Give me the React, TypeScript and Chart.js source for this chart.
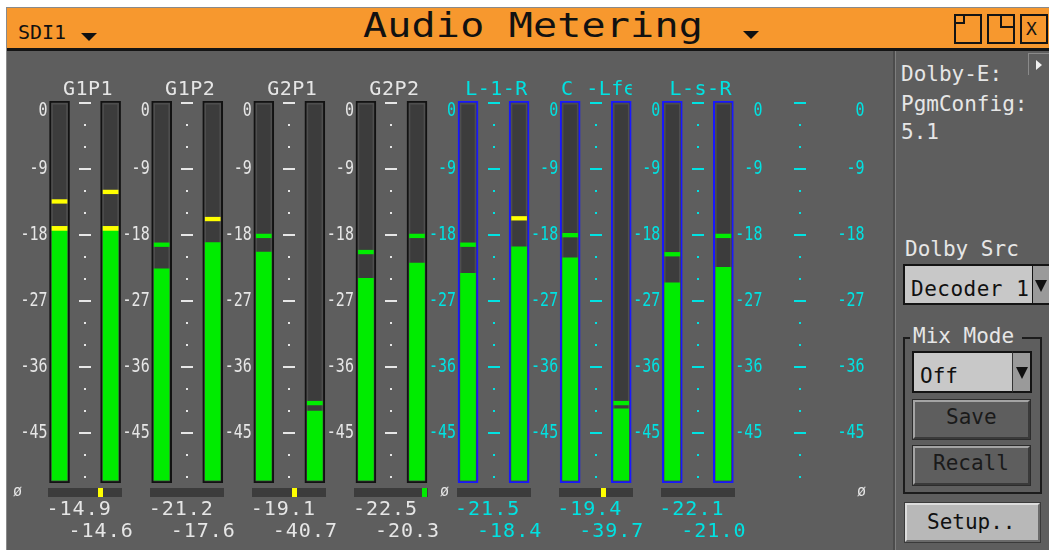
import React, { useEffect, useRef } from "react";
import { Chart, registerables } from "chart.js";

Chart.register(...registerables);

// ---------- data ----------
const groupNames = ["G1P1", "G1P2", "G2P1", "G2P2", "L-1-R", "C -Lfe", "L-s-R", ""];
const levelL = [-16.8, -22.6, -20.3, -23.9, -23.2, -21.1, -24.5, null];
const levelR = [-16.8, -19.0, -42.0, -21.8, -19.6, -41.7, -22.4, null];
const peakL = [-13.4, -19.3, -18.1, -20.3, -19.3, -18.0, -20.6, null];
const peakR = [-12.1, -15.8, -40.9, -18.1, -15.7, -40.9, -18.1, null];
const readoutL = [-14.9, -21.2, -19.1, -22.5, -21.5, -19.4, -22.1];
const readoutR = [-14.6, -17.6, -40.7, -20.3, -18.4, -39.7, -21.0];
const phase = [0.45, null, 0.15, 0.97, null, 0.22, null];
const scaleTicks = [0, -9, -18, -27, -36, -45];
const SCALE_MIN = -51.8;
const SCALE_MAX = 0.3;
const PEAK_WARN = -17;
const LEVEL_WARN = -18;

// ---------- style ----------
const MONO = "'DejaVu Sans Mono', 'Liberation Mono', monospace";
const WHITE = "#e6e6e6";
const CYAN = "#00e2e2";
const BLUE = "#1818ff";
const GREEN = "#00ec00";
const YELLOW = "#ffff00";
const BG = "#5e5e5e";
const TRACK = "#3c3c3c";

const channels = groupNames.flatMap((g) => [`${g || "Aux"} L`, `${g || "Aux"} R`]);
const levels = groupNames.flatMap((_, i) => [levelL[i], levelR[i]]);
const peaks = groupNames.flatMap((_, i) => [peakL[i], peakR[i]]);
const groupOf = (i: number) => Math.floor(i / 2);
const isSurround = (g: number) => g >= 4;

function stretchText(ctx: CanvasRenderingContext2D, text: string, x: number, y: number, sy: number) {
  ctx.save();
  ctx.translate(x, y);
  ctx.scale(1, sy);
  ctx.fillText(text, 0, 0);
  ctx.restore();
}

const meterDecor = {
  id: "meterDecor",
  afterDraw(chart: any) {
    const { ctx } = chart;
    const x = chart.scales.x;
    const y = chart.scales.y;
    const lx = (g: number) => x.getPixelForValue(2 * g);
    const pitch = lx(1) - lx(0);
    const mid = (g: number) => (x.getPixelForValue(2 * g) + x.getPixelForValue(2 * g + 1)) / 2;
    const col = (g: number) => (isSurround(g) ? CYAN : WHITE);
    ctx.save();

    // centre scales (dashes every 9 dB, dots every 3 dB)
    for (let g = 0; g < groupNames.length; g++) {
      ctx.fillStyle = col(g);
      const m = Math.round(mid(g));
      for (let db = 0; db >= -51; db -= 3) {
        const yy = Math.round(y.getPixelForValue(db));
        if (db % 9 === 0) ctx.fillRect(m - 6, yy - 1, 12, 2);
        else ctx.fillRect(m - 1, yy - 1, 2, 2);
      }
    }

    // numeric scale labels (one column before each group and one after the last)
    ctx.font = `15px ${MONO}`;
    ctx.textAlign = "right";
    ctx.textBaseline = "middle";
    for (let c = 0; c <= groupNames.length; c++) {
      const xr = (c < groupNames.length ? lx(c) : lx(groupNames.length - 1) + pitch) - 12;
      ctx.fillStyle = col(c);
      for (const t of scaleTicks) {
        const yy = Math.max(y.getPixelForValue(t), y.top + 10);
        stretchText(ctx, String(t), xr, yy, 1.3);
      }
    }

    // group names
    ctx.font = `20px ${MONO}`;
    ctx.textAlign = "center";
    ctx.textBaseline = "alphabetic";
    if ("letterSpacing" in ctx) (ctx as any).letterSpacing = "0.5px";
    groupNames.forEach((name, g) => {
      if (!name) return;
      const m = mid(g);
      ctx.save();
      ctx.beginPath();
      ctx.rect(m - 38, y.top - 30, 74, 30);
      ctx.clip();
      ctx.fillStyle = col(g);
      ctx.fillText(name, m + 3, y.top - 6);
      ctx.restore();
    });

    // correlation indicators
    phase.forEach((v, g) => {
      const m = mid(g);
      ctx.fillStyle = TRACK;
      ctx.fillRect(Math.round(m - 37), y.bottom + 5, 74, 9);
      if (v != null) {
        ctx.fillStyle = v >= 0.9 ? GREEN : YELLOW;
        ctx.fillRect(Math.round(m + v * 34 - 2.5), y.bottom + 5, 5, 9);
      }
    });

    // readouts
    ctx.font = `20px ${MONO}`;
    ctx.textAlign = "left";
    if ("letterSpacing" in ctx) (ctx as any).letterSpacing = "1px";
    readoutL.forEach((v, g) => {
      ctx.fillStyle = col(g);
      ctx.fillText(v.toFixed(1), lx(g) - 13, y.bottom + 32);
      ctx.fillText(readoutR[g].toFixed(1), lx(g) + 9, y.bottom + 54);
    });
    ctx.restore();
  },
};

const T = ({ x, base, size = 21, color = WHITE, spacing = 0, children }: any) => (
  <div
    style={{
      position: "absolute",
      left: x,
      top: base - 0.846 * size,
      fontSize: size,
      lineHeight: `${size}px`,
      color,
      whiteSpace: "pre",
      letterSpacing: spacing,
      fontFamily: MONO,
    }}
  >
    {children}
  </div>
);

const Tri = ({ x, y, w = 16, h = 9, color = "#111" }: any) => (
  <div
    style={{
      position: "absolute",
      left: x,
      top: y,
      width: 0,
      height: 0,
      borderLeft: `${w / 2}px solid transparent`,
      borderRight: `${w / 2}px solid transparent`,
      borderTop: `${h}px solid ${color}`,
    }}
  />
);

const abs = (l: number, t: number, w: number, h: number, extra: any = {}) => ({
  position: "absolute" as const,
  left: l,
  top: t,
  width: w,
  height: h,
  boxSizing: "border-box" as const,
  ...extra,
});

export default function App() {
  const ref = useRef<HTMLCanvasElement>(null);

  useEffect(() => {
    const chart = new Chart(ref.current as HTMLCanvasElement, {
      type: "bar",
      data: {
        labels: channels,
        datasets: [
          {
            label: "track",
            data: levels.map((l) => (l == null ? null : [SCALE_MIN, SCALE_MAX])) as any,
            backgroundColor: TRACK,
            borderColor: channels.map((_, i) => (isSurround(groupOf(i)) ? BLUE : "#121212")),
            borderWidth: 2,
            borderSkipped: false,
            barThickness: 20,
            grouped: false,
            order: 4,
          },
          {
            label: "trackEdge",
            data: levels.map((l) => (l == null ? null : [SCALE_MIN + 0.3, SCALE_MAX - 0.3])) as any,
            backgroundColor: "rgba(0,0,0,0)",
            borderColor: "#4e4e4e",
            borderWidth: 1,
            borderSkipped: false,
            barThickness: 16,
            grouped: false,
            order: 3,
          },
          {
            label: "level",
            data: levels.map((l) => (l == null ? null : [SCALE_MIN + 0.4, l])) as any,
            backgroundColor: GREEN,
            barThickness: 15,
            grouped: false,
            order: 2,
          },
          {
            label: "levelHot",
            data: levels.map((l) => (l == null || l <= LEVEL_WARN ? null : [l - 0.55, l])) as any,
            backgroundColor: YELLOW,
            barThickness: 15,
            grouped: false,
            order: 1,
          },
          {
            label: "peak",
            data: peaks.map((p) => (p == null ? null : [p - 0.25, p + 0.25])) as any,
            backgroundColor: peaks.map((p) => (p != null && p > PEAK_WARN ? YELLOW : GREEN)),
            barThickness: 15,
            grouped: false,
            order: 0,
          },
        ],
      },
      options: {
        responsive: false,
        animation: false,
        events: [],
        layout: { padding: { left: 27, right: 42, top: 50, bottom: 67 } },
        plugins: { legend: { display: false }, tooltip: { enabled: false } },
        scales: {
          x: { type: "category", display: false, offset: true, grid: { display: false } },
          y: { type: "linear", display: false, min: SCALE_MIN, max: SCALE_MAX },
        },
      },
      plugins: [meterDecor],
    } as any);
    return () => chart.destroy();
  }, []);

  const btn3d = {
    background: BG,
    borderTop: "2px solid #a4a4a4",
    borderLeft: "2px solid #a4a4a4",
    borderBottom: "2px solid #3a3a3a",
    borderRight: "2px solid #3a3a3a",
    outline: "1px solid #2c2c2c",
  };

  return (
    <div style={{ position: "fixed", left: 0, top: 0, width: 1049, height: 550, background: "#fff", overflow: "hidden" }}>
      {/* frame */}
      <div style={abs(6, 7, 1043, 543, { background: BG, borderLeft: "1px solid #8a8a8a", borderTop: "1px solid #8a8a8a" })} />
      {/* title bar */}
      <div style={abs(7, 8, 1042, 40, { background: "#f7982e" })} />
      <div style={abs(7, 48, 1042, 3, { background: "#141414" })} />
      <T x={18} base={39} size={20} color="#111">SDI1</T>
      <Tri x={81} y={33} w={16} h={8} />
      <div
        style={{
          position: "absolute",
          left: 363,
          top: 9,
          fontFamily: MONO,
          fontSize: 40,
          lineHeight: "40px",
          letterSpacing: 0.2,
          color: "#111",
          whiteSpace: "pre",
          transform: "scaleY(0.83)",
          transformOrigin: "left top",
        }}
      >
        Audio Metering
      </div>
      <Tri x={743} y={31} w={16} h={8} />
      {/* window buttons */}
      <div style={abs(954, 14, 28, 30, { border: "2px solid #141414" })}>
        <div style={abs(0, 0, 9, 8, { borderRight: "2px solid #141414", borderBottom: "2px solid #141414" })} />
      </div>
      <div style={abs(987, 14, 28, 30, { border: "2px solid #141414" })}>
        <div style={abs(11, 0, 13, 12, { borderLeft: "2px solid #141414", borderBottom: "2px solid #141414" })} />
      </div>
      <div style={abs(1020, 14, 28, 30, { border: "2px solid #141414" })}>
        <div style={{ position: "absolute", left: 4, top: 3, fontFamily: MONO, fontSize: 18, lineHeight: "20px", color: "#141414" }}>X</div>
      </div>

      {/* meters */}
      <canvas ref={ref} width={886} height={499} style={abs(7, 51, 886, 499)} />

      {/* phase symbols */}
      <T x={13} base={497} size={15} color={WHITE}>ø</T>
      <T x={440} base={497} size={15} color={WHITE}>ø</T>
      <T x={857} base={497} size={15} color={WHITE}>ø</T>

      {/* right panel */}
      <div style={abs(893, 51, 2, 499, { background: "#4c4c4c" })} />
      <div style={abs(895, 51, 1, 499, { background: "#7e7e7e" })} />
      <div style={abs(1028, 53, 21, 22, { borderLeft: "1px solid #8a8a8a", borderTop: "1px solid #8a8a8a" })}>
        <div
          style={{
            position: "absolute",
            left: 7,
            top: 6,
            width: 0,
            height: 0,
            borderTop: "5px solid transparent",
            borderBottom: "5px solid transparent",
            borderLeft: "6px solid #f0f0f0",
          }}
        />
      </div>
      <T x={901} base={82}>Dolby-E:</T>
      <T x={901} base={112}>PgmConfig:</T>
      <T x={901} base={140}>5.1</T>
      <T x={905} base={257}>Dolby Src</T>

      <div style={abs(903, 264, 131, 41, { background: "#c8c8c8", border: "2px solid #141414" })} />
      <T x={911} base={297} color="#111" spacing={0.5}>Decoder 1</T>
      <div style={abs(1033, 264, 16, 41, { background: "#9a9a9a", borderTop: "2px solid #141414", borderBottom: "2px solid #141414" })} />
      <Tri x={1035} y={280} w={12} h={12} />

      <div style={abs(903, 337, 139, 157, { border: "2px solid #1c1c1c" })} />
      <div style={abs(910, 326, 112, 22, { background: BG })} />
      <T x={913} base={344} color={WHITE}>Mix Mode</T>

      <div style={abs(912, 351, 120, 42, { background: "#c8c8c8", border: "2px solid #141414" })} />
      <T x={920} base={384} color="#111">Off</T>
      <div style={abs(1012, 351, 20, 42, { background: "#9a9a9a", border: "2px solid #141414", borderLeft: "1px solid #333" })} />
      <Tri x={1016} y={367} w={12} h={12} />

      <div style={abs(913, 400, 117, 39, btn3d)} />
      <T x={946} base={425} color="#1a1a1a">Save</T>
      <div style={abs(913, 446, 117, 39, btn3d)} />
      <T x={933} base={471} color="#1a1a1a">Recall</T>

      <div
        style={abs(905, 503, 135, 39, {
          background: "#b8b8b8",
          borderTop: "2px solid #dcdcdc",
          borderLeft: "2px solid #dcdcdc",
          borderBottom: "2px solid #6a6a6a",
          borderRight: "2px solid #6a6a6a",
          outline: "1px solid #3a3a3a",
        })}
      />
      <T x={927} base={530} color="#111">Setup..</T>
    </div>
  );
}
